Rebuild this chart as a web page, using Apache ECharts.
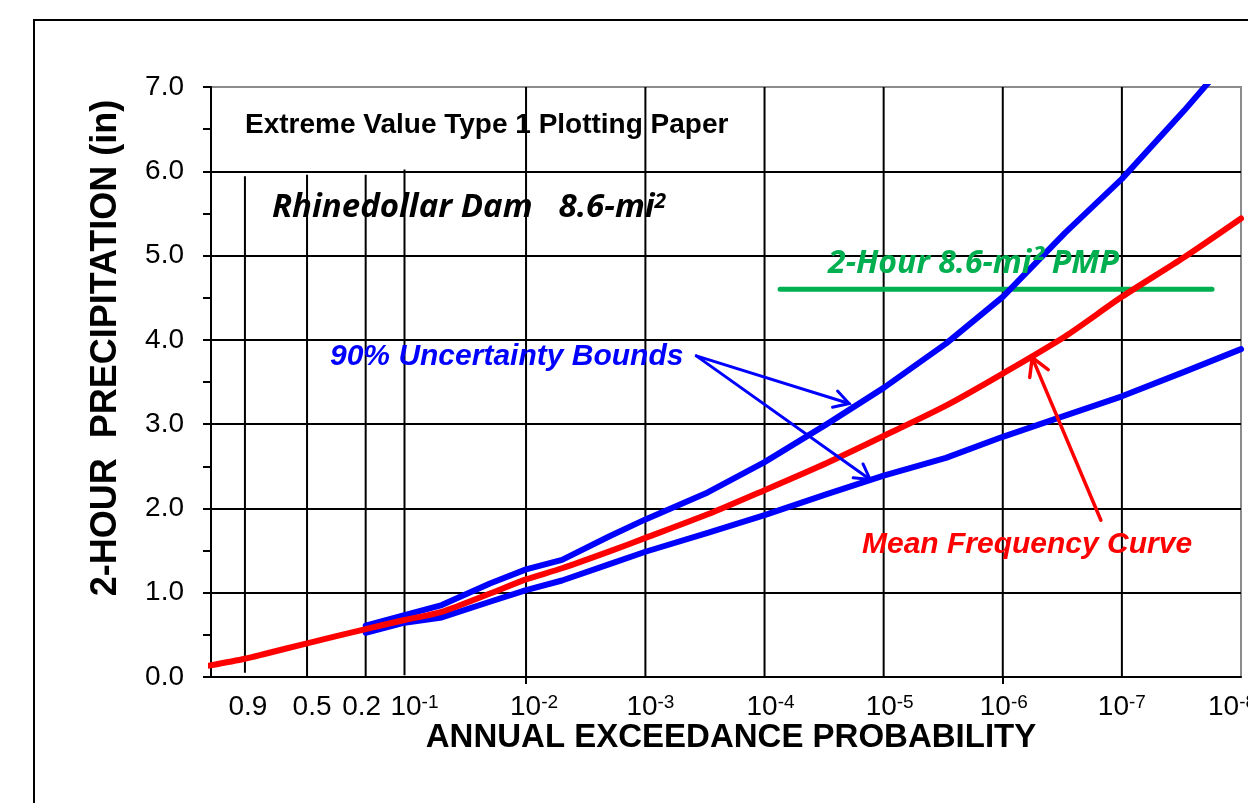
<!DOCTYPE html>
<html>
<head>
<meta charset="utf-8">
<script src="https://cdn.jsdelivr.net/npm/echarts@6/dist/echarts.min.js"></script>
<style>
  html, body { margin: 0; padding: 0; background: #fff; }
  #chart { width: 1248px; height: 803px; }
</style>
</head>
<body>
<div id="chart"></div>
<script>
// ---- Frequency curve data (annual exceedance probability vs 2-hour depth, inches) ----
const boundAEP   = [0.2, 0.1, 0.05, 0.02, 0.01, 0.005, 0.002, 1e-3, 3e-4, 1e-4, 3e-5, 1e-5, 3e-6, 1e-6, 3e-7, 1e-7, 3e-8, 1e-8];
const upperBound = [0.608, 0.735, 0.853, 1.11, 1.277, 1.39, 1.67, 1.87, 2.19, 2.55, 3.0, 3.43, 3.955, 4.51, 5.27, 5.91, 6.72, 7.5];
const lowerBound = [0.525, 0.644, 0.707, 0.893, 1.031, 1.145, 1.34, 1.486, 1.71, 1.92, 2.17, 2.39, 2.6, 2.85, 3.1, 3.33, 3.62, 3.89];

const meanAEP   = [0.99, 0.9, 0.8, 0.5, 0.2, 0.1, 0.05, 0.02, 0.01, 0.005, 0.002, 1e-3, 3e-4, 1e-4, 3e-5, 1e-5, 3e-6, 1e-6, 3e-7, 1e-7, 3e-8, 1e-8];
const meanCurve = [0.135, 0.217, 0.27, 0.40, 0.569, 0.676, 0.774, 0.99, 1.158, 1.29, 1.49, 1.65, 1.93, 2.217, 2.54, 2.86, 3.22, 3.60, 4.04, 4.51, 4.98, 5.44];

// 2-hour 8.6 sq mi PMP depth and the probability span of its reference line
const pmpDepth    = 4.6;
const pmpAEPSpan  = [7.4e-5, 1.75e-8];

// Probability-paper rulings and tick labels
const gridAEP    = [0.9, 0.5, 0.2, 0.1, 1e-2, 1e-3, 1e-4, 1e-5, 1e-6, 1e-7];
const gridTop    = [5.94, 5.96, 5.96, 6.02, 7, 7, 7, 7, 7, 7];
const gridBottom = [0.05, 0, 0, 0.02, 0, 0, 0, 0, 0, 0];
const labelAEP   = [0.9, 0.5, 0.2, 0.1, 1e-2, 1e-3, 1e-4, 1e-5, 1e-6, 1e-7, 1e-8];
const labelText  = ['0.9', '0.5', '0.2', '10^-1', '10^-2', '10^-3', '10^-4', '10^-5', '10^-6', '10^-7', '10^-8'];
const tickAEP    = [1e-2, 1e-6];

// Horizontal nudge (px) of each probability label off its ruling
const labelNudge = [3, 5, -4, 10, 8, 5, 6, 6, 1, 0, -9];

// Annotation arrows, anchored in (probability, depth)
const boundsArrowTail = [3.74e-4, 3.81];
const boundsArrowTips = [[1.95e-5, 3.245], [1.30e-5, 2.344]];
const meanArrowTail   = [1.5e-7, 1.86];
const meanArrowTip    = [5.66e-7, 3.79];

// ---- helpers ----
// Extreme Value Type 1 (Gumbel) reduced variate for an exceedance probability
const gumbel = p => -Math.log(-Math.log1p(-p));
const pts = (aeps, vals) => aeps.map((p, i) => [gumbel(p), vals[i]]);

const SANS = "'Liberation Sans', Arial, sans-serif";
const HUMANIST = "'Open Sans', 'Noto Sans', sans-serif";
const X_MIN = -1.49;
const X_MAX = gumbel(1e-8);
const labelX = labelAEP.map(gumbel);

// per-label rich styles: left padding on the base, right padding on the last token
const labelRich = {};
labelNudge.forEach((d, i) => {
  const isPower = labelText[i].indexOf('^') >= 0;
  const left = Math.max(0, 2 * d), right = Math.max(0, -2 * d);
  labelRich['n' + i] = {
    fontSize: 28, fontFamily: SANS, color: '#000',
    padding: [0, isPower ? 0 : right, 0, left]
  };
  labelRich['s' + i] = {
    fontSize: 19, fontFamily: SANS, color: '#000', verticalAlign: 'top',
    padding: [0, right, 0, 0]
  };
});

const chart = echarts.init(document.getElementById('chart'), null, { renderer: 'canvas' });

const rulingSeries = gridAEP.map((p, i) => ({
  type: 'line',
  data: [[gumbel(p), gridBottom[i]], [gumbel(p), gridTop[i]]],
  symbol: 'none',
  silent: true,
  z: 1,
  lineStyle: { color: '#000', width: 2 }
}));

const option = {
  animation: false,
  backgroundColor: '#fff',
  grid: {
    left: 211, top: 87, right: 7, bottom: 126,
    containLabel: false, outerBoundsMode: 'none',
    show: true, borderColor: '#8c8c8c', borderWidth: 2, backgroundColor: 'transparent'
  },
  xAxis: {
    type: 'value', min: X_MIN, max: X_MAX,
    axisLine: { show: true, onZero: false, lineStyle: { color: '#000', width: 2 } },
    axisTick: { show: true, customValues: tickAEP.map(gumbel), length: 7, lineStyle: { color: '#000', width: 2 } },
    axisLabel: {
      show: true,
      customValues: labelX,
      margin: 16,
      color: '#000',
      fontSize: 28,
      fontFamily: SANS,
      hideOverlap: false,
      formatter: v => {
        let k = 0;
        labelX.forEach((x, i) => { if (Math.abs(x - v) < Math.abs(labelX[k] - v)) k = i; });
        const t = labelText[k];
        if (t.indexOf('^') < 0) return '{n' + k + '|' + t + '}';
        const parts = t.split('^');
        return '{n' + k + '|' + parts[0] + '}{s' + k + '|' + parts[1] + '}';
      },
      rich: labelRich
    },
    splitLine: { show: false }
  },
  yAxis: {
    type: 'value', min: 0, max: 7, interval: 1,
    axisLine: { show: true, onZero: false, lineStyle: { color: '#000', width: 2 } },
    axisTick: { show: true, length: 8, lineStyle: { color: '#000', width: 2 } },
    minorTick: { show: true, splitNumber: 2, length: 8, lineStyle: { color: '#000', width: 2 } },
    axisLabel: { formatter: v => v.toFixed(1), fontSize: 28, fontFamily: SANS, color: '#000', margin: 27 },
    splitLine: { show: true, lineStyle: { color: ['#000', '#000', '#000', '#000', '#000', '#000', '#000', '#8c8c8c'], width: 2 } }
  },
  series: rulingSeries.concat([
    {
      name: 'PMP', type: 'line', z: 3, symbol: 'none', silent: true,
      data: pts(pmpAEPSpan, [pmpDepth, pmpDepth]),
      lineStyle: { color: '#00B050', width: 5, cap: 'round' }
    },
    {
      name: 'Upper 90% bound', type: 'line', z: 4, symbol: 'none', silent: true,
      data: pts(boundAEP, upperBound),
      lineStyle: { color: '#0000FF', width: 6, cap: 'round', join: 'round' }
    },
    {
      name: 'Lower 90% bound', type: 'line', z: 4, symbol: 'none', silent: true,
      data: pts(boundAEP, lowerBound),
      lineStyle: { color: '#0000FF', width: 6, cap: 'round', join: 'round' }
    },
    {
      name: 'Mean frequency curve', type: 'line', z: 5, symbol: 'none', silent: true, smooth: 0.25,
      data: pts(meanAEP, meanCurve),
      lineStyle: { color: '#FF0000', width: 6, cap: 'round', join: 'round' }
    }
  ])
};

chart.setOption(option);

// ---- annotations ----
const toPx = a => chart.convertToPixel({ xAxisIndex: 0, yAxisIndex: 0 }, [gumbel(a[0]), a[1]]);

function arrow(tailD, tipD, color, width, headLen) {
  const tail = toPx(tailD), tip = toPx(tipD);
  const dx = tail[0] - tip[0], dy = tail[1] - tip[1];
  const L = Math.hypot(dx, dy), ux = dx / L, uy = dy / L;
  const ang = Math.PI / 6;
  const rot = a => [tip[0] + headLen * (ux * Math.cos(a) - uy * Math.sin(a)),
                    tip[1] + headLen * (ux * Math.sin(a) + uy * Math.cos(a))];
  return [
    { type: 'line', z: 20, silent: true, shape: { x1: tail[0], y1: tail[1], x2: tip[0], y2: tip[1] },
      style: { stroke: color, lineWidth: width, lineCap: 'round' } },
    { type: 'polyline', z: 20, silent: true, shape: { points: [rot(ang), tip, rot(-ang)] },
      style: { stroke: color, lineWidth: width, fill: null, lineCap: 'round', lineJoin: 'miter' } }
  ];
}

const plain = (x, y, text, font, fill) => ({
  type: 'text', x: x, y: y, z: 30, silent: true,
  style: { text: text, font: font, fill: fill, textAlign: 'left', textVerticalAlign: 'middle' }
});

const graphics = [
  { type: 'rect', z: 0, silent: true, shape: { x: 34, y: 20, width: 1400, height: 1000 },
    style: { fill: null, stroke: '#000', lineWidth: 2 } },
  { type: 'text', x: 106, y: 348, rotation: Math.PI / 2, z: 30, silent: true,
    style: { text: '2-HOUR  PRECIPITATION (in)', font: 'bold 36px ' + SANS, fill: '#000',
             textAlign: 'center', textVerticalAlign: 'middle' } },
  { type: 'text', x: 731, y: 738, z: 30, silent: true,
    style: { text: 'ANNUAL EXCEEDANCE PROBABILITY', font: 'bold 33px ' + SANS, fill: '#000',
             textAlign: 'center', textVerticalAlign: 'middle' } },
  plain(245, 125, 'Extreme Value Type 1 Plotting Paper', 'bold 28px ' + SANS, '#000'),
  { type: 'text', x: 272, y: 208, z: 30, silent: true,
    style: {
      text: '{a|Rhinedollar Dam}{b|8.6-mi}{c|2}',
      textAlign: 'left', textVerticalAlign: 'middle',
      rich: {
        a: { font: 'italic bold 33px ' + HUMANIST, fill: '#000' },
        b: { font: 'italic bold 33px ' + HUMANIST, fill: '#000', padding: [0, 0, 0, 26] },
        c: { font: 'italic bold 21px ' + HUMANIST, fill: '#000', verticalAlign: 'top' }
      }
    } },
  plain(330, 357, '90% Uncertainty Bounds', 'italic bold 30px ' + SANS, '#0000FF'),
  plain(828, 264, '2-Hour 8.6-mi\u00B2 PMP', 'italic bold 32px ' + HUMANIST, '#00B050'),
  plain(862, 545, 'Mean Frequency Curve', 'italic bold 30px ' + SANS, '#FF0000')
]
 .concat(arrow(boundsArrowTail, boundsArrowTips[0], '#0000FF', 3, 17))
 .concat(arrow(boundsArrowTail, boundsArrowTips[1], '#0000FF', 3, 17))
 .concat(arrow(meanArrowTail, meanArrowTip, '#FF0000', 3.5, 20));

chart.setOption({ graphic: graphics });
</script>
</body>
</html>
